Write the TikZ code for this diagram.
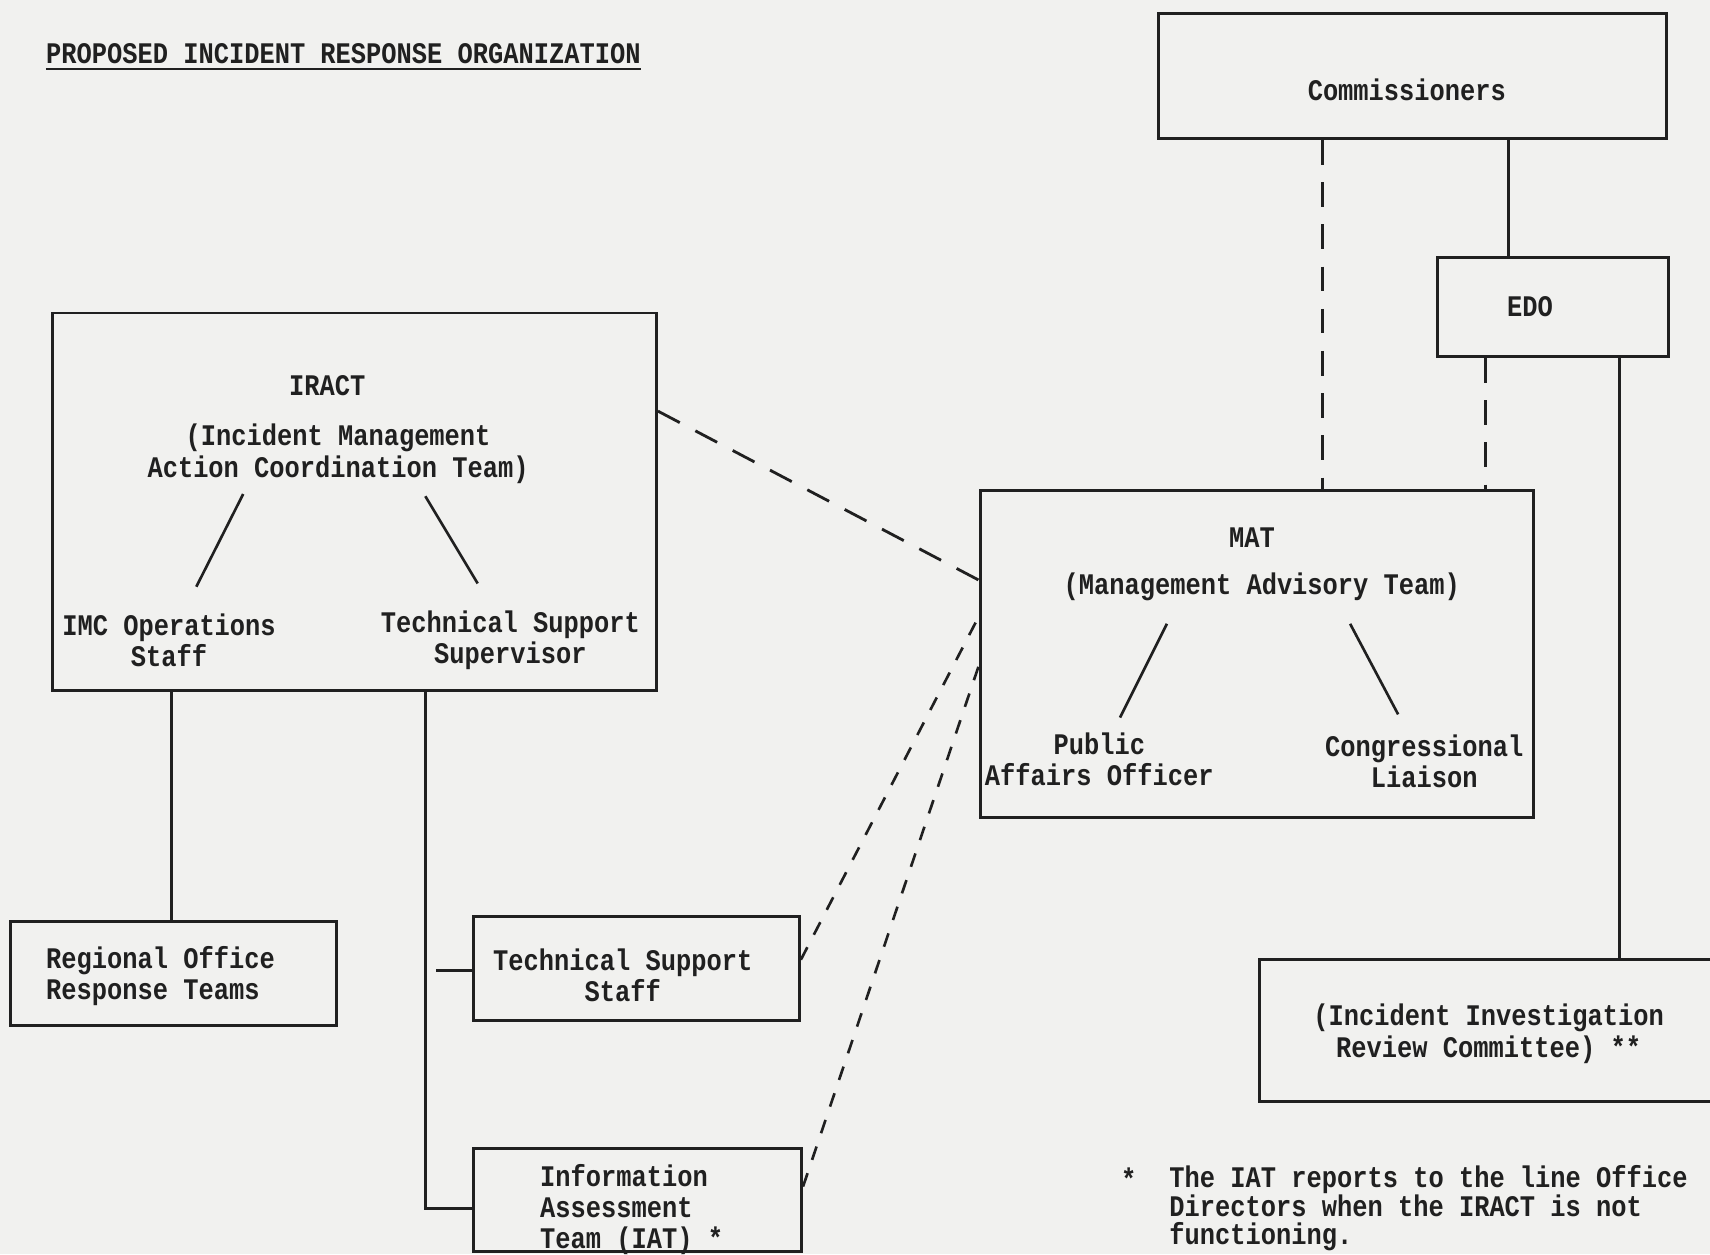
\documentclass[tikz,border=0pt]{standalone}
\usepackage{fontspec}
\usetikzlibrary{fit}
\newfontfamily\tw{Liberation Mono}[FakeStretch=0.85]
\definecolor{paper}{RGB}{241,241,239}
\definecolor{ink}{RGB}{32,32,32}
\begin{document}
\begin{tikzpicture}[x=0.02181cm,y=-0.02181cm,
  box/.style={draw=ink,line width=1.7pt,inner sep=0pt,fit={#1}},
  txt/.style={text=ink,font=\tw\bfseries\fontsize{17}{17.8}\selectfont,align=center,inner sep=0pt},
  solidline/.style={draw=ink,line width=1.5pt},
  dashline/.style={draw=ink,line width=1.6pt,dash pattern=on 14pt off 10pt},
  fineline/.style={draw=ink,line width=1.5pt,dash pattern=on 8pt off 8pt}]
\useasboundingbox (0,0) rectangle (1568,1150);
\fill[paper] (0,0) rectangle (1568,1150);

% title
\node[txt,anchor=base west] (title) at (42,58) {PROPOSED INCIDENT RESPONSE ORGANIZATION};
\draw[ink,line width=1.2pt] (title.base west |- 0,63) -- (title.base east |- 0,63);

% boxes
\node[box={(1062,12) (1528,127)}] (comm) {};
\node[box={(1318,236) (1530,327)}] (edo) {};
\node[box={(48,287) (602,633)}] (iract) {};
\node[box={(899,450) (1406,750)}] (mat) {};
\node[box={(10,845) (309,940)}] (reg) {};
\node[box={(434,840) (733,936)}] (tss) {};
\node[box={(434,1053) (735,1148)}] (iat) {};
\node[box={(1155,880) (1585,1010)}] (iirc) {};

% texts
\node[txt] (commt) at (1290,82) {Commissioners};
\node[txt] (edot) at (1403,281) {EDO};
\node[txt] (iractt) at (300,354) {IRACT};
\node[txt] (iractl) at (310,416) {(Incident Management\\Action Coordination Team)};
\node[txt] (imc) at (155,587) {IMC Operations\\Staff};
\node[txt] (tsup) at (468,587) {Technical Support\\Supervisor};
\node[txt] (matt) at (1148,493) {MAT};
\node[txt] (matl) at (1157,538) {(Management Advisory Team)};
\node[txt] (pao) at (1008,696) {Public\\Affairs Officer};
\node[txt] (cl) at (1306,698) {Congressional\\Liaison};
\node[txt,anchor=west,align=left] (regt) at (42,895) {Regional Office\\Response Teams};
\node[txt] (tsst) at (571,894) {Technical Support\\Staff};
\node[txt,anchor=west,align=left] (iatt) at (495,1109) {Information\\Assessment\\Team (IAT) *};
\node[txt] (iirct) at (1365,948) {(Incident Investigation\\Review Committee) **};
\node[txt] (star) at (1035,1081) {*};
\node[txt,anchor=north west,align=left,font=\tw\bfseries\fontsize{17}{16.4}\selectfont] (note) at (1072,1068) {The IAT reports to the line Office\\Directors when the IRACT is not\\functioning.};

% internal branch lines
\coordinate (i1a) at (223,453); \coordinate (i1b) at (180,538);
\coordinate (i2a) at (390,455); \coordinate (i2b) at (438,535);
\coordinate (m1a) at (1070,572); \coordinate (m1b) at (1027,658);
\coordinate (m2a) at (1238,572); \coordinate (m2b) at (1282,655);
\draw[solidline] (i1a) -- (i1b);
\draw[solidline] (i2a) -- (i2b);
\draw[solidline] (m1a) -- (m1b);
\draw[solidline] (m2a) -- (m2b);

% helper coordinates
\coordinate (xCE) at (1383,0);
\coordinate (xCM) at (1213,0);
\coordinate (xEM) at (1362,0);
\coordinate (xEI) at (1485,0);
\coordinate (xIR) at (157,0);
\coordinate (xIA) at (390,0);
\coordinate (xTS) at (400,0);
\coordinate (yIA) at (0,1108);
\coordinate (yTS) at (0,890);
\coordinate (yA) at (0,377);
\coordinate (yB) at (0,532);
\coordinate (yC) at (0,880);
\coordinate (yD) at (0,565);
\coordinate (yE) at (0,1088);
\coordinate (yF) at (0,610);

% connectors
\draw[solidline] (comm.south -| xCE) -- (edo.north -| xCE);
\draw[dashline] (comm.south -| xCM) -- (mat.north -| xCM);
\draw[dashline] (edo.south -| xEM) -- (mat.north -| xEM);
\draw[solidline] (edo.south -| xEI) -- (iirc.north -| xEI);
\draw[solidline] (iract.south -| xIR) -- (reg.north -| xIR);
\draw[solidline] (iract.south -| xIA) -- (xIA |- yIA) -- (iat.west |- yIA);
\draw[solidline] (xTS |- yTS) -- (tss.west |- yTS);
\draw[dashline] (iract.east |- yA) -- (mat.west |- yB);
\draw[fineline] (tss.east |- yC) -- (mat.west |- yD);
\draw[fineline] (iat.east |- yE) -- (mat.west |- yF);
\end{tikzpicture}
\end{document}
